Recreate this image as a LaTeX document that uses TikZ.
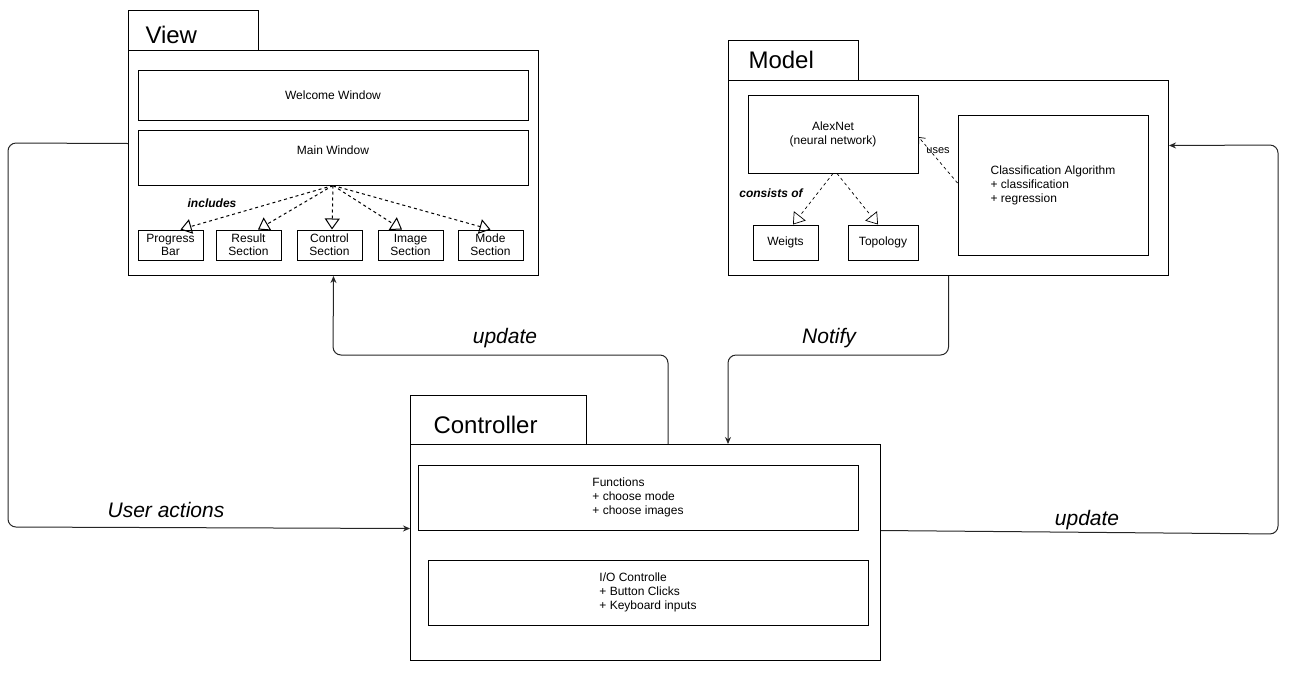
\documentclass[tikz,border=0pt]{standalone}
\usepackage{fontspec}
\setmainfont{Liberation Sans}
\usetikzlibrary{positioning,arrows.meta}

\begin{document}
\begin{tikzpicture}[x=1pt, y=-1pt, line width=1pt,
                    >={Stealth[length=7pt,width=6pt]},
                    every node/.style={inner sep=0pt, font=\fontsize{12}{14}\selectfont},
                    box/.style={draw, fill=white, align=center},
                    tab/.style={draw, fill=white, minimum width=130pt, minimum height=40pt, anchor=north west},
                    part/.style={draw, fill=white, align=center, minimum width=65pt, minimum height=30pt,
                                 font=\fontsize{12}{13}\selectfont},
                    title/.style={anchor=west, font=\fontsize{24}{28}\selectfont},
                    flowlabel/.style={font=\fontsize{21}{25}\selectfont\itshape},
                    tag/.style={font=\fontsize{12}{14}\selectfont\bfseries\itshape},
                    flow/.style={draw=black!85, rounded corners=8pt},
                    incl/.style={dash pattern=on 3pt off 3pt, -{Triangle[open, length=11pt, width=15pt]}},
                    uses/.style={dash pattern=on 3pt off 3pt, line width=0.7pt, -{Straight Barb[length=5pt, width=9pt]}}]
  \useasboundingbox (0,0) rectangle (1290,678);

  % View package
  \node[tab] (viewtab) at (128,10) {};
  \node[box, minimum width=410pt, minimum height=225pt, anchor=north west] (view) at (128,50) {};
  \node[title] (viewname) at (145,35) {View};
  \node[box, minimum width=390pt, minimum height=50pt] (welcome) at (333,95) {Welcome Window};
  \node[box, minimum width=390pt, minimum height=55pt] (mainwin) at (333,157.5) {};
  \node (mainname) at (333,150) {Main Window};
  \node[part] (progress) at (170.5,245) {Progress\\Bar};
  \node[part] (result) at (248.5,245) {Result\\Section};
  \node[part] (control) at (329.5,245) {Control\\Section};
  \node[part] (image) at (410.5,245) {Image\\Section};
  \node[part] (mode) at (490.5,245) {Mode\\Section};
  \node[tag] (includes) at (212,203) {includes};
  \draw[incl] (mainwin.south) -- ([xshift=10pt]progress.north);
  \draw[incl] (mainwin.south) -- ([xshift=9.5pt]result.north);
  \draw[incl] (mainwin.south) -- ([xshift=2.5pt]control.north);
  \draw[incl] (mainwin.south) -- ([xshift=-8.5pt]image.north);
  \draw[incl] (mainwin.south) -- (mode.north);

  % Model package
  \node[tab] (modeltab) at (728,40) {};
  \node[box, minimum width=440pt, minimum height=195pt, anchor=north west] (model) at (728,80) {};
  \node[title] (modelname) at (748,60) {Model};
  \node[box, minimum width=170pt, minimum height=78pt] (alexnet) at (833,134) {AlexNet\\(neural network)};
  \node[box, align=left, minimum width=190pt, minimum height=140pt] (classif) at (1053,185)
    {Classification Algorithm\\+ classification\\+ regression};
  \node[part, minimum height=35pt] (weights) at (785.5,242.5) {Weigts};
  \node[part, minimum width=70pt, minimum height=35pt] (topology) at (883,242.5) {Topology};
  \node[tag] (consists) at (771,193) {consists of};
  \node[font=\fontsize{11}{13}\selectfont] (useslabel) at (938,151) {uses};
  \draw[incl, line width=0.7pt] (alexnet.south) -- ([xshift=7.5pt]weights.north);
  \draw[incl, line width=0.7pt] ([xshift=4pt]alexnet.south) -- ([xshift=-5pt]topology.north);
  \draw[uses] ([yshift=2pt]classif.west) -- ([yshift=-3pt]alexnet.east);

  % Controller package
  \node[tab, minimum width=176pt, minimum height=49pt] (ctrltab) at (410,395) {};
  \node[box, minimum width=470pt, minimum height=216pt, anchor=north west] (ctrl) at (410,444) {};
  \node[title] (ctrlname) at (433,425) {Controller};
  \node[box, align=left, minimum width=440pt, minimum height=65pt] (funcs) at (638,497.5)
    {Functions\\+ choose mode\\+ choose images};
  \node[box, align=left, minimum width=440pt, minimum height=65pt] (iocon) at (648,592.5)
    {I/O Controlle\\+ Button Clicks\\+ Keyboard inputs};

  % connectors
  \coordinate (upbend) at (333,355);
  \coordinate (notifyin) at ([xshift=318pt]ctrl.north west);
  \coordinate (lefttop) at (8,143);
  \coordinate (leftbot) at (8,527);
  \coordinate (rightbot) at (1278,534);
  \coordinate (righttop) at (1278,145);
  \draw[flow, ->] ([xshift=258pt]ctrl.north west) |- (upbend) -- (view.south);
  \draw[flow, ->] (model.south) |- (notifyin |- upbend) -- (notifyin);
  \draw[flow, ->] ([yshift=19.5pt]view.west) -- (lefttop) -- (leftbot) -- ([yshift=24pt]ctrl.west);
  \draw[flow, ->] ([yshift=22pt]ctrl.east) -- (rightbot) -- (righttop) -- ([yshift=32.5pt]model.east);
  \node[flowlabel] (updateview) at (505,338) {update};
  \node[flowlabel] (notify) at (829,338) {Notify};
  \node[flowlabel] (useractions) at (166,510) {User actions};
  \node[flowlabel] (updatemodel) at (1087,520) {update};
\end{tikzpicture}
\end{document}
